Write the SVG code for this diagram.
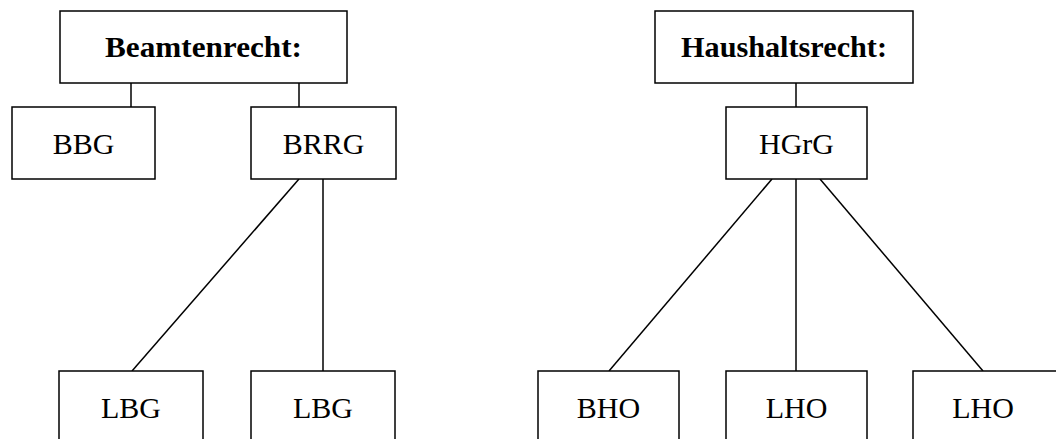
<svg xmlns="http://www.w3.org/2000/svg" width="1056" height="439" viewBox="0 0 1056 439">
<style>
rect{fill:#fff;stroke:#000;stroke-width:1.5}
line{stroke:#000;stroke-width:1.5}
text{font-family:"Liberation Serif",serif;font-size:30px;text-anchor:middle;fill:#000}
.b{font-weight:bold}
</style>
<rect x="0" y="0" width="1056" height="439" style="stroke:none"/>
<g id="connectors">
<line x1="131" y1="83" x2="131" y2="107"/>
<line x1="299" y1="83" x2="299" y2="107"/>
<line x1="299" y1="179" x2="132" y2="371"/>
<line x1="323" y1="179" x2="323" y2="371"/>
<line x1="796" y1="83" x2="796" y2="107"/>
<line x1="772" y1="179" x2="609" y2="371"/>
<line x1="796" y1="179" x2="796" y2="371"/>
<line x1="820" y1="179" x2="983" y2="371"/>
</g>
<g id="beamtenrecht"><rect x="60" y="11" width="287" height="72"/><text class="b" x="203.5" y="57" textLength="197" lengthAdjust="spacingAndGlyphs">Beamtenrecht:</text></g>
<g id="bbg"><rect x="12" y="107" width="143" height="72"/><text x="83.5" y="154">BBG</text></g>
<g id="brrg"><rect x="251" y="107" width="145" height="72"/><text x="323.5" y="154">BRRG</text></g>
<g id="lbg1"><rect x="59" y="371" width="144" height="80"/><text x="131" y="418">LBG</text></g>
<g id="lbg2"><rect x="251" y="371" width="144" height="80"/><text x="323" y="418">LBG</text></g>
<g id="haushaltsrecht"><rect x="655" y="11" width="258" height="72"/><text class="b" x="784" y="57" textLength="206" lengthAdjust="spacingAndGlyphs">Haushaltsrecht:</text></g>
<g id="hgrg"><rect x="726" y="107" width="141" height="72"/><text x="796.5" y="154">HGrG</text></g>
<g id="bho"><rect x="538" y="371" width="141" height="80"/><text x="608.5" y="418">BHO</text></g>
<g id="lho1"><rect x="726" y="371" width="141" height="80"/><text x="796.5" y="418">LHO</text></g>
<g id="lho2"><rect x="913" y="371" width="160" height="80"/><text x="983" y="418">LHO</text></g>
</svg>
